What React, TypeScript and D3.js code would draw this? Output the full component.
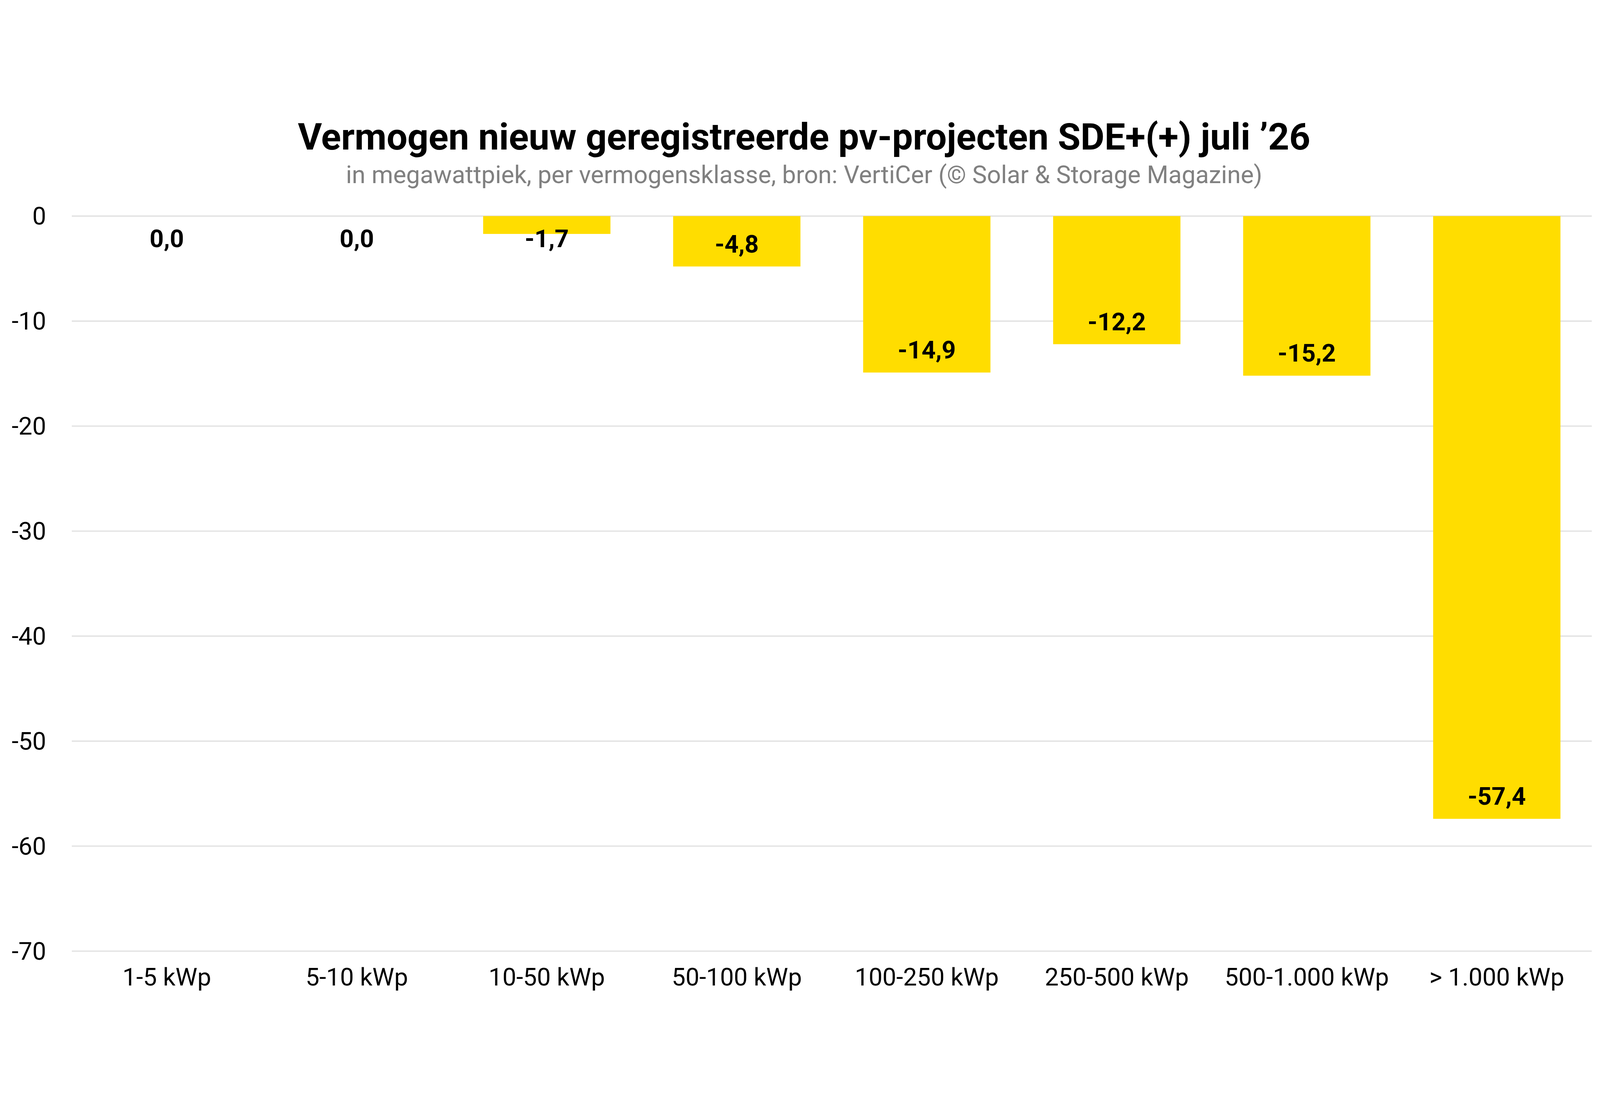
import * as d3 from "d3";
import React from "react";

const categories = ["1-5 kWp", "5-10 kWp", "10-50 kWp", "50-100 kWp", "100-250 kWp", "250-500 kWp", "500-1.000 kWp", "> 1.000 kWp"];
const values = [0.0, 0.0, -1.7, -4.8, -14.9, -12.2, -15.2, -57.4];
const yTicks = [0, -10, -20, -30, -40, -50, -60, -70];

// drawing units match a 1560-wide layout, scaled to the window by viewBox
const VW = 1560;
const VH = 1560 * 2807 / 4990;

export default function App() {
  const x = d3.scaleBand<string>().domain(categories).range([70, 1552]).paddingInner(0.33).paddingOuter(0.165);
  const y = d3.scaleLinear().domain([-70, 0]).range([832, 115]);
  const fmt = (v: number) => v.toFixed(1).replace(".", ",");
  return (
    <svg viewBox={`0 0 ${VW} ${VH}`} style={{ position: "fixed", left: 0, top: 0, width: "100vw", height: "100vh", background: "#fff" }} fontFamily="Roboto">
      <text x={784} y={50} textAnchor="middle" fontSize={36} fontWeight="bold" fill="#000">
        Vermogen nieuw geregistreerde pv-projecten SDE+(+) juli ’26
      </text>
      <text x={784} y={83} textAnchor="middle" fontSize={24} fill="#808080">
        in megawattpiek, per vermogensklasse, bron: VertiCer (© Solar &amp; Storage Magazine)
      </text>
      {yTicks.map((t) => (
        <g key={t}>
          <line x1={70} x2={1552} y1={y(t)} y2={y(t)} stroke="#e0e0e0" strokeWidth={1.2} />
          <text x={45} y={y(t)} dy="0.35em" textAnchor="end" fontSize={24} fill="#000">{t}</text>
        </g>
      ))}
      {values.map((v, i) => {
        const c = categories[i];
        const bx = x(c)!;
        const bottom = y(v);
        const ly = Math.max(bottom - 22, y(0) + 22);
        return (
          <g key={c}>
            <rect x={bx} y={y(0)} width={x.bandwidth()} height={bottom - y(0)} fill="#ffdd00" />
            <text x={bx + x.bandwidth() / 2} y={ly} dy="0.35em" textAnchor="middle" fontSize={24} fontWeight="bold" fill="#000">{fmt(v)}</text>
            <text x={bx + x.bandwidth() / 2} y={857} dy="0.35em" textAnchor="middle" fontSize={24} fill="#000">{c}</text>
          </g>
        );
      })}
    </svg>
  );
}
